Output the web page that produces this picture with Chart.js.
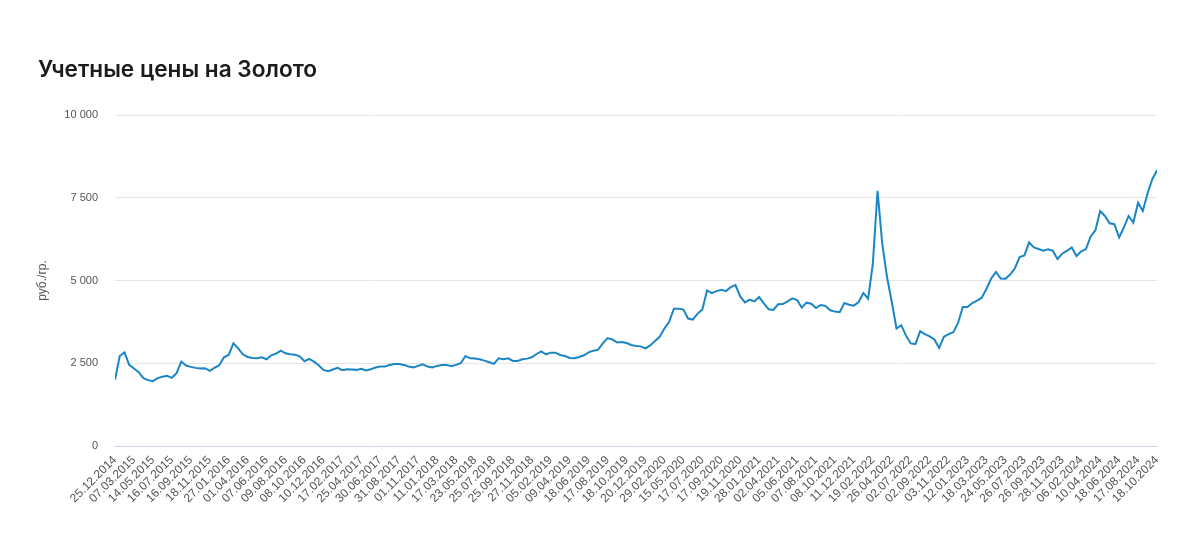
<!DOCTYPE html>
<html>
<head>
<meta charset="utf-8">
<script src="https://cdn.jsdelivr.net/npm/chart.js@4.4.1/dist/chart.umd.min.js"></script>
<style>
  html, body { margin: 0; padding: 0; background: #ffffff; }
  #wrap { position: relative; width: 1200px; height: 538px; overflow: hidden; }
  #title { position: absolute; left: 38px; top: 55px; font-family: Inter, Roboto, sans-serif; font-weight: 600; font-size: 22.6px; color: #1b1b1b; letter-spacing: 0px; }
  #c { position: absolute; left: 0; top: 0; }
</style>
</head>
<body>
<div id="wrap">
  <canvas id="c" width="1200" height="538"></canvas>
  <div id="title">Учетные цены на Золото</div>
</div>
<script>
const tickLabels = [
  "25.12.2014","07.03.2015","14.05.2015","16.07.2015","16.09.2015","18.11.2015",
  "27.01.2016","01.04.2016","07.06.2016","09.08.2016","08.10.2016","10.12.2016",
  "17.02.2017","25.04.2017","30.06.2017","31.08.2017","01.11.2017","11.01.2018",
  "17.03.2018","23.05.2018","25.07.2018","25.09.2018","27.11.2018","05.02.2019",
  "09.04.2019","18.06.2019","17.08.2019","18.10.2019","20.12.2019","29.02.2020",
  "15.05.2020","17.07.2020","17.09.2020","19.11.2020","28.01.2021","02.04.2021",
  "05.06.2021","07.08.2021","08.10.2021","11.12.2021","19.02.2022","26.04.2022",
  "02.07.2022","02.09.2022","03.11.2022","12.01.2023","18.03.2023","24.05.2023",
  "26.07.2023","26.09.2023","28.11.2023","06.02.2024","10.04.2024","18.06.2024",
  "17.08.2024","18.10.2024"
];
const pointsPerLabel = 4;

const priceValues = [
  2000,2720,2830,2450,2340,2230,2050,1990,1960,2050,
  2090,2120,2060,2200,2550,2430,2390,2360,2340,2350,
  2270,2360,2440,2680,2750,3100,2950,2770,2690,2660,
  2650,2680,2620,2740,2790,2880,2800,2770,2760,2710,
  2560,2630,2550,2440,2300,2260,2310,2360,2290,2320,
  2310,2300,2330,2280,2320,2370,2400,2400,2450,2480,
  2480,2450,2400,2370,2420,2470,2400,2370,2420,2450,
  2450,2410,2450,2500,2720,2650,2640,2620,2580,2530,
  2480,2650,2620,2650,2570,2570,2620,2640,2680,2780,
  2860,2770,2820,2820,2750,2720,2660,2650,2690,2740,
  2830,2880,2910,3100,3260,3220,3130,3140,3110,3050,
  3020,3010,2950,3040,3170,3300,3550,3750,4150,4150,
  4120,3850,3820,4000,4120,4700,4620,4680,4720,4680,
  4800,4860,4520,4340,4420,4370,4500,4310,4130,4110,
  4280,4290,4370,4460,4410,4180,4330,4300,4170,4260,
  4230,4100,4060,4040,4320,4270,4240,4350,4620,4450,
  5500,7710,6100,5100,4350,3550,3650,3340,3100,3080,
  3470,3380,3310,3220,2960,3300,3380,3440,3720,4200,
  4200,4320,4390,4480,4750,5060,5260,5060,5050,5180,
  5370,5710,5760,6150,6000,5950,5900,5940,5900,5650,
  5810,5900,6000,5740,5880,5950,6330,6520,7100,6950,
  6730,6700,6300,6600,6950,6750,7350,7100,7630,8060,
  8330
];

const yTicks = [0, 2500, 5000, 7500, 10000];

function fmt(v) {
  return String(v).replace(/\B(?=(\d{3})+(?!\d))/g, ' ');
}

const data = priceValues.map((v, i) => ({ x: i, y: v }));

new Chart(document.getElementById('c'), {
  type: 'line',
  data: {
    datasets: [{
      data: data,
      borderColor: '#1a86c5',
      borderWidth: 2,
      pointRadius: 0,
      pointHoverRadius: 0,
      tension: 0,
      fill: false
    }]
  },
  options: {
    responsive: false,
    animation: false,
    devicePixelRatio: 1,
    layout: { padding: { top: 115, right: 43, bottom: 0, left: 0 } },
    plugins: { legend: { display: false }, tooltip: { enabled: false }, title: { display: false } },
    scales: {
      x: {
        type: 'linear',
        min: 0,
        max: (tickLabels.length - 1) * pointsPerLabel,
        afterBuildTicks: (axis) => {
          axis.ticks = tickLabels.map((_, j) => ({ value: j * pointsPerLabel }));
        },
        afterFit: (scale) => { scale.height = 92; },
        grid: { display: false, drawTicks: false },
        border: { display: true, color: '#ccd6eb', width: 1 },
        ticks: {
          autoSkip: false,
          maxRotation: 45,
          minRotation: 45,
          padding: 7,
          color: '#555555',
          font: { family: 'Liberation Sans, Arial, sans-serif', size: 12 },
          callback: (value, index) => tickLabels[index]
        }
      },
      y: {
        min: 0,
        max: 10000,
        afterBuildTicks: (axis) => {
          axis.ticks = yTicks.map(v => ({ value: v }));
        },
        afterFit: (scale) => { scale.width = 115; },
        grid: { color: '#e6e6e6', drawTicks: false, lineWidth: 1 },
        border: { display: false },
        ticks: {
          padding: 17,
          color: '#555555',
          font: { family: 'Liberation Sans, Arial, sans-serif', size: 11 },
          callback: (v) => fmt(v)
        },
        title: {
          display: true,
          text: 'руб./гр.',
          color: '#555555',
          font: { family: 'Liberation Sans, Arial, sans-serif', size: 12 },
          padding: { top: 35, bottom: 0 }
        }
      }
    }
  }
});
</script>
</body>
</html>
